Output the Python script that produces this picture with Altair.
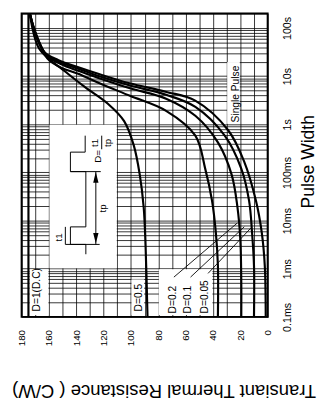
import altair as alt
import pandas as pd

# ---------------- data ----------------
# pulse width in seconds, transient thermal resistance in C/W
dc_t = [0.0001, 200]
dc_r = [175, 175]

d05_t = [200, 37, 12.3, 5.9, 2.7, 1.16, 0.36, 0.091, 0.019, 0.0029, 0.0001]
d05_r = [174, 167.1, 147.9, 133.6, 117.1, 105.0, 97.9, 93.6, 90.7, 89.3, 87.9]

d02_t = [200, 90, 47, 21.5, 14.8, 11.2, 7.4, 3.9, 1.9, 0.58, 0.12, 0.026, 0.0056, 0.00116, 0.0001]
d02_r = [174, 170.7, 167.1, 160.0, 150.7, 138.6, 124.3, 100.7, 74.3, 52.9, 45.7, 40.7, 37.9, 36.4, 36.4]

d01_t = [200, 104, 57, 26, 17.9, 12.9, 9.3, 5.6, 3.4, 1.5, 0.42, 0.091, 0.019, 0.0041, 0.00055, 0.0001]
d01_r = [174, 171.4, 167.9, 161.4, 151.4, 138.6, 124.3, 100.7, 74.3, 52.9, 36.4, 26.4, 22.1, 20.0, 19.3, 19.3]

d005_t = [200, 109, 62, 28, 19.6, 14.2, 10.2, 6.4, 4.1, 2.3, 0.58, 0.12, 0.026, 0.0056, 0.00116, 0.0001]
d005_r = [174, 171.4, 168.6, 162.1, 152.1, 138.6, 124.3, 100.7, 74.3, 52.9, 31.4, 19.3, 13.6, 11.4, 10.0, 10.0]

single_t = [200, 119, 68, 31, 21.5, 15.5, 11.2, 7.1, 4.7, 3.1, 0.76, 0.166, 0.026, 0.0056, 0.00116, 0.0001]
single_r = [174, 172, 169, 163, 153, 139, 124, 101, 74, 53, 29, 17.1, 8.6, 4.3, 2.1, 1.4]

# axis ticks
r_ticks = list(range(0, 181, 10))
time_ticks = [0.0001, 0.001, 0.01, 0.1, 1, 10, 100]
time_labels = ["0.1ms", "1ms", "10ms", "100ms", "1s", "10s", "100s"]

# curve labels
lab_text = ["D=1(D.C)", "D=0.5", "D=0.2", "D=0.1", "D=0.05"]
lab_r = [168.6, 94.3, 69.3, 57.9, 45.7]
lab_t = [0.00013, 0.00013, 0.000118, 0.000118, 0.000118]

single_lab = ["Single Pulse"]
single_lab_r = [22.9]
single_lab_t = [4.25]

# white label boxes (r from, r to, t from, t to)
box_r1 = [110.4, 160.4, 90.4, 40.4, 20.4]
box_r2 = [159.6, 174.2, 99.6, 79.6, 29.6]
box_t1 = [0.00102, 0.00011, 0.00011, 0.00011, 1.02]
box_t2 = [0.98, 0.00098, 0.0006, 0.00098, 19.6]

# leader lines from the D labels
lead_r1 = [68.6, 56.4, 43.6]
lead_t1 = [0.00067, 0.00067, 0.0008]
lead_r2 = [22.1, 17.1, 12.1]
lead_t2 = [0.00896, 0.00743, 0.0071]

# pulse diagram (D = t1/tp)
wave_r = [133, 133, 144.3, 144.3, 133, 133, 144.3, 144.3, 133.5, 133.5]
wave_t = [0.002, 0.0032, 0.0032, 0.0074, 0.0074, 0.104, 0.104, 0.264, 0.264, 0.58]
ext_r1 = [148, 144.3, 125.7, 148, 121.4]
ext_r2 = [122.9, 122.1, 125.7, 148, 121.4]
ext_t1 = [0.0032, 0.104, 0.104, 0.0032, 0.58]
ext_t2 = [0.0032, 0.104, 0.0032, 0.0074, 0.303]
arrow_r = [125.7, 125.7]
arrow_t = [0.079, 0.0043]
arrow_shape = ["M0,-1L-0.5,1L0.5,1Z", "M0,1L-0.5,-1L0.5,-1Z"]
diag_text = ["t1", "tp", "D=", "t1", "tp"]
diag_r = [152.9, 120.7, 124.3, 125.9, 116.9]
diag_t = [0.00447, 0.0179, 0.215, 0.41, 0.41]

# ---------------- tables ----------------
rows = []
for name, ts, rs in [("DC", dc_t, dc_r), ("0.5", d05_t, d05_r), ("0.2", d02_t, d02_r),
                     ("0.1", d01_t, d01_r), ("0.05", d005_t, d005_r), ("single", single_t, single_r)]:
    for i, (t, r) in enumerate(zip(ts, rs)):
        rows.append({"series": name, "idx": i, "t": t, "r": r})
curves = pd.DataFrame(rows)

grid_vals = []
for d in time_ticks:
    for k in range(1, 10):
        grid_vals.append(round(k * d, 10))
grid_vals.append(200)

expr = ""
for v, l in zip(time_ticks, time_labels):
    expr += f"datum.value == {v} ? '{l}' : "
expr += "''"

FONT = "Liberation Sans"

xs = alt.Scale(domain=[0, 180], reverse=True, nice=False, zero=False)
ys = alt.Scale(type="log", domain=[0.0001, 200], nice=False)

x_axis = alt.Axis(values=r_ticks, labelExpr="datum.value % 20 == 0 ? datum.label : ''",
                  labelAngle=270, labelAlign="right", labelBaseline="middle", labelPadding=13,
                  labelFontSize=10, labelFlush=False, labelOverlap=False, ticks=False, domain=False,
                  grid=True, title="Transiant Thermal Resistance ( C/W)", titleAngle=180,
                  titleAlign="center", titleBaseline="middle", titleX=146, titleY=76,
                  titleFontSize=19, titleFontWeight="normal")
y_axis = alt.Axis(orient="right", values=grid_vals, labelExpr=expr, labelAngle=270,
                  labelAlign="center", labelBaseline="top", labelPadding=14, labelFontSize=11,
                  labelFlush=False, labelOverlap=False, ticks=False, domain=False, grid=True,
                  title="Pulse Width", titleAngle=270, titleAlign="center", titleBaseline="middle",
                  titleX=42, titleY=152, titleFontSize=18, titleFontWeight="normal")

X = alt.X("r:Q", scale=xs, axis=x_axis)
Y = alt.Y("t:Q", scale=ys, axis=y_axis)

boxes = pd.DataFrame({"r": box_r1, "r2": box_r2, "t": box_t1, "t2": box_t2})
box_layer = alt.Chart(boxes).mark_rect(fill="white").encode(
    x=X, x2="r2:Q", y=Y, y2="t2:Q")

curve_layer = alt.Chart(curves).mark_line(color="black", strokeWidth=2.2,
                                          interpolate="catmull-rom").encode(
    x=X, y=Y, detail="series:N", order="idx:Q")

labels = pd.DataFrame({"text": lab_text, "r": lab_r, "t": lab_t})
label_layer = alt.Chart(labels).mark_text(angle=270, align="left", baseline="middle",
                                          font=FONT, fontSize=10.5, color="black").encode(
    x=X, y=Y, text="text:N")

sp = pd.DataFrame({"text": single_lab, "r": single_lab_r, "t": single_lab_t})
sp_layer = alt.Chart(sp).mark_text(angle=270, align="center", baseline="middle",
                                   font=FONT, fontSize=10.5, color="black").encode(
    x=X, y=Y, text="text:N")

lead_rows = []
for i in range(len(lead_r1)):
    lead_rows.append({"seg": i, "idx": 0, "r": lead_r1[i], "t": lead_t1[i]})
    lead_rows.append({"seg": i, "idx": 1, "r": lead_r2[i], "t": lead_t2[i]})
lead_layer = alt.Chart(pd.DataFrame(lead_rows)).mark_line(color="black", strokeWidth=0.9).encode(
    x=X, y=Y, detail="seg:N", order="idx:Q")

wave = pd.DataFrame({"r": wave_r, "t": wave_t, "idx": list(range(len(wave_r)))})
wave_layer = alt.Chart(wave).mark_line(color="black", strokeWidth=1).encode(
    x=X, y=Y, order="idx:Q")

ext = pd.DataFrame({"r": ext_r1, "r2": ext_r2, "t": ext_t1, "t2": ext_t2})
ext_layer = alt.Chart(ext).mark_rule(color="black", strokeWidth=1).encode(
    x=X, x2="r2:Q", y=Y, y2="t2:Q")

arrows = pd.DataFrame({"r": arrow_r, "t": arrow_t, "shape": arrow_shape})
arrow_layer = alt.Chart(arrows).mark_point(filled=True, color="black", size=120, opacity=1).encode(
    x=X, y=Y, shape=alt.Shape("shape:N", scale=None))

dtext = pd.DataFrame({"text": diag_text, "r": diag_r, "t": diag_t})
dtext_layer = alt.Chart(dtext).mark_text(angle=270, align="center", baseline="middle",
                                         font=FONT, fontSize=10, color="black").encode(
    x=X, y=Y, text="text:N")

chart = alt.layer(
    box_layer, curve_layer, lead_layer, wave_layer, ext_layer, arrow_layer,
    label_layer, sp_layer, dtext_layer
).properties(
    width=253, height=312,
    padding={"left": 14, "top": 0, "right": 60, "bottom": 86},
    autosize=alt.AutoSizeParams(type="none"),
).configure(
    font=FONT,
).configure_axis(
    gridColor="black", gridOpacity=1, gridWidth=0.8, labelColor="black", titleColor="black",
    labelFont=FONT, titleFont=FONT,
).configure_view(
    stroke="black", strokeWidth=2,
)

chart.save("out.html", embed_options={"renderer": "svg", "actions": False})
